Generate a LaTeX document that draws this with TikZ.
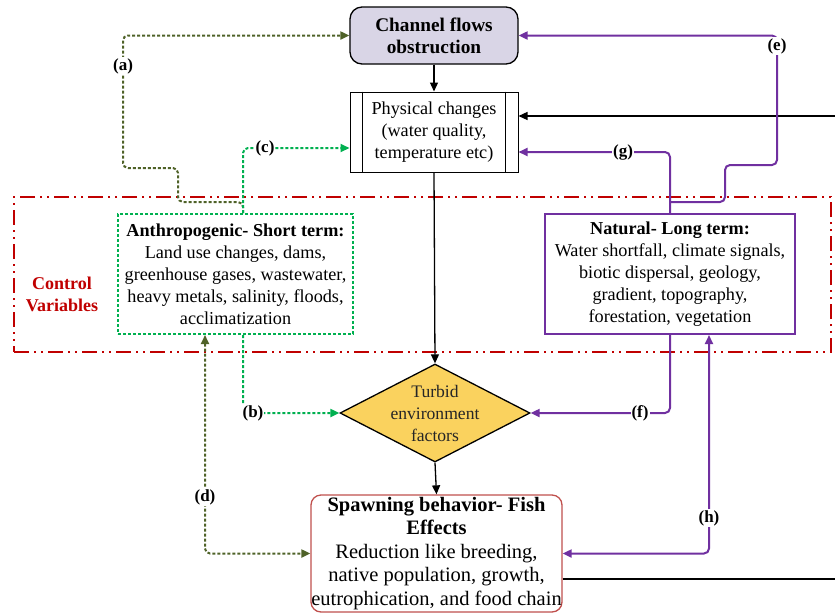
\documentclass[tikz,border=0pt]{standalone}
\usepackage{fontspec}
\setmainfont{Liberation Serif}
\usetikzlibrary{arrows.meta,shapes.geometric,calc}
\definecolor{cpurple}{HTML}{7030A0}
\definecolor{cgreen}{HTML}{00B050}
\definecolor{colive}{HTML}{4F6228}
\definecolor{cred}{HTML}{C00000}
\definecolor{cbrown}{HTML}{C0504D}
\definecolor{cgold}{HTML}{FAD25E}
\definecolor{clav}{HTML}{D9D5E6}
\begin{document}
\begin{tikzpicture}[x=1pt,y=-1pt,
  txt/.style={font=\fontsize{18.2}{22}\selectfont, align=center},
  tip/.style={-{Triangle[length=9pt,width=8pt]}},
  tips/.style={{Triangle[length=9pt,width=8pt]}-{Triangle[length=9pt,width=8pt]}},
  blackline/.style={draw=black, line width=1.3pt},
  purpleline/.style={draw=cpurple, line width=2pt, rounded corners=5pt},
  greenline/.style={draw=cgreen, line width=2pt, dash pattern=on 3pt off 2pt, rounded corners=5pt},
  oliveline/.style={draw=colive, line width=2pt, dash pattern=on 3pt off 2pt, rounded corners=5pt},
  lab/.style={font=\fontsize{17}{18}\selectfont\bfseries, fill=white, inner sep=1pt},
]
\useasboundingbox (0,0) rectangle (835,614);
% control variables region
\node[draw=cred, line width=2pt, dash pattern=on 15pt off 5pt on 2pt off 5pt on 2pt off 5pt,
  minimum width=817pt, minimum height=155pt, inner sep=0] (ctrl) at (422.5,274.5) {};
\node[align=center, font=\fontsize{18}{22}\selectfont\bfseries, text=cred] (ctrltxt) at (62,294) {Control\\Variables};
% nodes
\node[draw=black, line width=1.3pt, fill=clav, rounded corners=12pt, minimum width=168pt, minimum height=57pt,
  align=center, font=\fontsize{19.3}{22}\selectfont\bfseries] (chan) at (434,35.5) {Channel flows\\obstruction};
\node[draw=black, line width=1pt, fill=white, minimum width=168pt, minimum height=80pt, txt] (phys) at (434,132)
  {Physical changes\\(water quality,\\temperature etc)};
\draw[line width=1pt] ($(phys.north west)+(13,0)$) -- ($(phys.south west)+(13,0)$);
\draw[line width=1pt] ($(phys.north east)+(-13,0)$) -- ($(phys.south east)+(-13,0)$);
\node[draw=cgreen, line width=2pt, dash pattern=on 3pt off 2pt, fill=white, minimum width=235pt, minimum height=120pt, txt] (anth) at (235.5,274)
  {\textbf{Anthropogenic- Short term:}\\Land use changes, dams,\\greenhouse gases, wastewater,\\heavy metals, salinity, floods,\\acclimatization};
\node[draw=cpurple, line width=2pt, fill=white, minimum width=250pt, minimum height=120pt, txt] (nat) at (670,274)
  {\textbf{Natural- Long term:}\\Water shortfall, climate signals,\\biotic dispersal, geology,\\gradient, topography,\\forestation, vegetation};
\node[draw=black, line width=1.3pt, fill=cgold, diamond, minimum width=190pt, minimum height=98pt, inner sep=0] (diam) at (435,413) {};
\node[align=center, font=\fontsize{17.6}{22}\selectfont, text=black!85] (diamtxt) at (diam.center) {Turbid\\environment\\factors};
\node[draw=cbrown, line width=1.3pt, fill=white, rounded corners=10pt, minimum width=251pt, minimum height=117pt,
  align=center, font=\fontsize{20.5}{23.5}\selectfont, inner sep=0pt] (spawn) at (436.5,553.5)
  {\textbf{Spawning behavior- Fish}\\\textbf{Effects}\\Reduction like breeding,\\native population, growth,\\eutrophication, and food chain};
% free ends
\coordinate (rin) at (835,116);
\coordinate (rout) at (835,579);
% black arrows
\draw[blackline, tip] (chan.south) -- (phys.north);
\draw[blackline, tip] (phys.south) -- (diam.north);
\draw[blackline, tip] (diam.south) -- (spawn.north);
\draw[blackline, tip] (rin) -- (rin -| phys.east);
\draw[blackline] ($(spawn.east)+(0,25.5)$) -- (rout);
% (a)
\draw[oliveline, tip] ($(anth.north)+(7.5,0)$) -- ++(0,-11) -| (178,168) -| (123,35.5) -- (chan.west);
\node[lab] (la) at (123,66) {(a)};
% (c)
\draw[greenline, tip] ($(anth.north)+(7.5,0)$) |- ($(phys.west)+(0,16)$);
\node[lab] (lc) at (265,148) {(c)};
% (b)
\draw[greenline, tip] ($(anth.south)+(7.5,0)$) |- (diam.west);
\node[lab] (lb) at (253,413) {(b)};
% (d)
\draw[oliveline, tips] ($(anth.south)+(-30.5,0)$) |- (spawn.west);
\node[lab] (ld) at (205,497) {(d)};
% (g)
\draw[purpleline, tip] (nat.north) |- ($(phys.east)+(0,20)$);
\node[lab] (lg) at (623,152) {(g)};
% (e)
\draw[purpleline, tip] ($(nat.north)+(0,-11)$) -| (725,165) -| (777,35.5) -- (chan.east);
\node[lab] (le) at (777,46) {(e)};
% (f)
\draw[purpleline, tip] (nat.south) |- (diam.east);
\node[lab] (lf) at (640,413) {(f)};
% (h)
\draw[purpleline, tips] ($(nat.south)+(39,0)$) |- (spawn.east);
\node[lab] (lh) at (709,518) {(h)};
\end{tikzpicture}
\end{document}
